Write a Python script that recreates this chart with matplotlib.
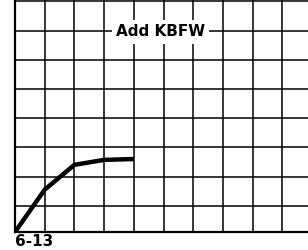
import matplotlib
matplotlib.use("Agg")
import matplotlib.pyplot as plt
import numpy as np

# curve, in grid cells
curve_x = [0, 1, 2, 3, 4]
curve_y = [0, 1.45, 2.3, 2.47, 2.5]

x_grid = np.arange(0, 10)
y_grid = np.arange(0.9, 8, 1.0)

label_text = "Add KBFW"
fig_label = "6-13"

fig = plt.figure(figsize=(3.08, 2.5), dpi=100)
ax = fig.add_axes([15 / 308, 18 / 250, 293 / 308, 232 / 250])
ax.set_xlim(0, 293 / 29.7)
ax.set_ylim(0, 232 / 29.2)

for x in x_grid[1:]:
    ax.axvline(x, color="black", lw=1.1, zorder=1)
for y in y_grid:
    ax.axhline(y, color="black", lw=1.1, zorder=1)

ax.plot(curve_x, curve_y, color="black", lw=3.2, solid_capstyle="butt", zorder=3)

ax.text(4.9, 6.85, label_text, ha="center", va="center", fontsize=11,
        fontweight="bold", family="DejaVu Sans", zorder=4,
        bbox=dict(facecolor="white", edgecolor="none", pad=3))

for side in ["top", "right"]:
    ax.spines[side].set_visible(False)
ax.spines["left"].set_linewidth(1.6)
ax.spines["bottom"].set_linewidth(1.6)
ax.set_xticks([])
ax.set_yticks([])

fig.text(15 / 308, 1 - 242 / 250, fig_label, ha="left", va="center",
         fontsize=11, fontweight="bold", family="DejaVu Sans")

fig.savefig("out.png", dpi=100)
